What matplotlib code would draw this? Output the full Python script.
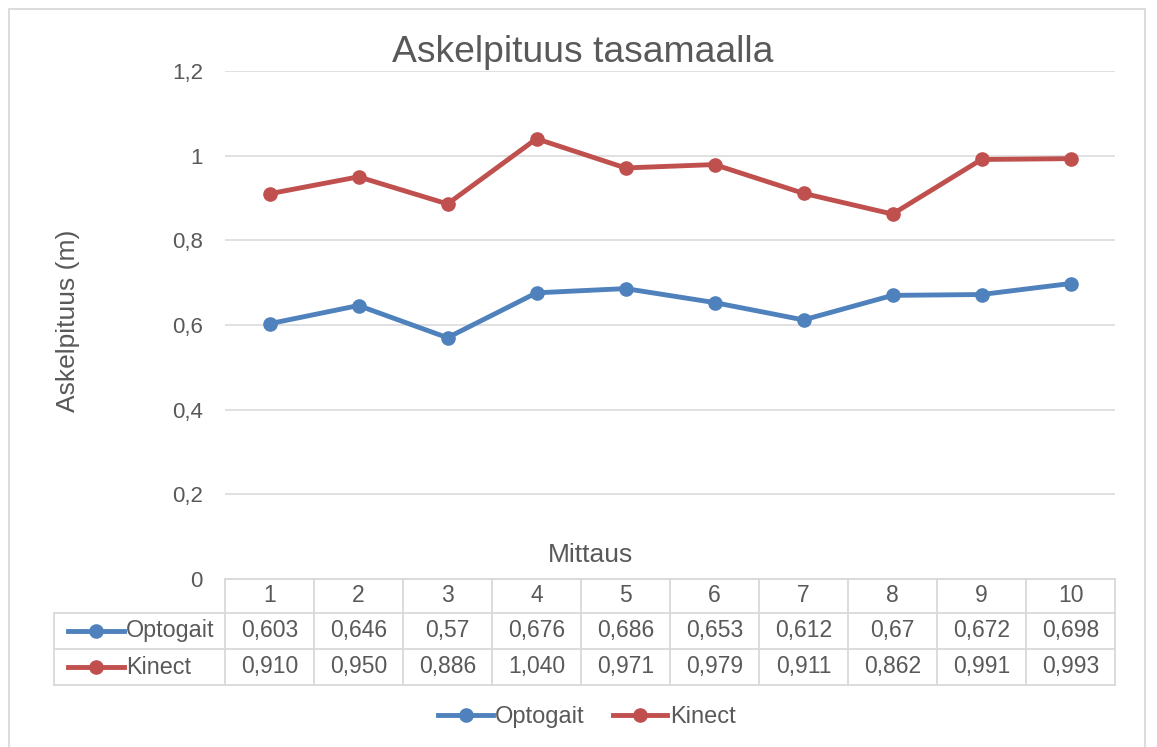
import matplotlib.pyplot as plt
import matplotlib.transforms as mtransforms
from matplotlib.lines import Line2D
from matplotlib.patches import Rectangle

plt.rcParams['font.family'] = ['Liberation Sans', 'DejaVu Sans']

# data
mittaus = [1, 2, 3, 4, 5, 6, 7, 8, 9, 10]
optogait = [0.603, 0.646, 0.57, 0.676, 0.686, 0.653, 0.612, 0.67, 0.672, 0.698]
kinect = [0.910, 0.950, 0.886, 1.040, 0.971, 0.979, 0.911, 0.862, 0.991, 0.993]
y_ticks = [0, 0.2, 0.4, 0.6, 0.8, 1.0, 1.2]

BLUE = '#4F81BD'
RED = '#C0504D'
TXT = '#595959'
GRID = '#D9D9D9'
W, H = 1157, 747


def fx(x):
    return x / W


def fy(y):
    return 1 - y / H


fig = plt.figure(figsize=(W / 100, H / 100), dpi=100)
fig.patches.append(Rectangle((fx(9), fy(760)), fx(1145) - fx(9), fy(9) - fy(760),
                             transform=fig.transFigure, fill=False,
                             edgecolor=GRID, lw=1.3))

ax = fig.add_axes([fx(225), fy(579), fx(1115) - fx(225), fy(71) - fy(579)])
ax.plot(mittaus, optogait, color=BLUE, lw=3.5, marker='o', ms=9.5, label='Optogait')
ax.plot(mittaus, kinect, color=RED, lw=3.5, marker='o', ms=9.5, label='Kinect')
ax.set_xlim(0.5, 10.5)
ax.set_ylim(0, 1.2)
ax.set_yticks(y_ticks)
ax.set_yticklabels([f'{t:g}'.replace('.', ',') for t in y_ticks])
ax.set_xticks([])
ax.tick_params(axis='y', length=0, pad=16, labelsize=16, labelcolor=TXT)
ax.yaxis.grid(True, color=GRID, lw=1.1)
ax.set_axisbelow(True)
for s in ax.spines.values():
    s.set_visible(False)

fig.text(fx(583), fy(52), 'Askelpituus tasamaalla', ha='center', va='center',
         fontsize=26.8, color=TXT)
fig.text(fx(68), fy(321), 'Askelpituus (m)', ha='center', va='center',
         rotation=90, fontsize=19, color=TXT)
fig.text(fx(591), fy(555), 'Mittaus', ha='center', va='center',
         fontsize=19, color=TXT)

# data table
tr = mtransforms.blended_transform_factory(ax.transData, fig.transFigure)
rows_y = [579, 613, 649, 685]
lw_t = 1.3
ax.plot([0.5, 10.5], [fy(rows_y[0])] * 2, color=GRID, lw=lw_t, transform=tr, clip_on=False)
for yy in rows_y[1:]:
    fig.add_artist(Line2D([fx(54), fx(1115)], [fy(yy)] * 2, color=GRID, lw=lw_t))
for i in range(11):
    ax.plot([0.5 + i] * 2, [fy(579), fy(685)], color=GRID, lw=lw_t, transform=tr, clip_on=False)
fig.add_artist(Line2D([fx(54)] * 2, [fy(613), fy(685)], color=GRID, lw=lw_t))

for m in mittaus:
    ax.text(m, fy(596), str(m), ha='center', va='center', fontsize=16.5,
            color=TXT, transform=tr)
for m, o, k in zip(mittaus, optogait, kinect):
    ax.text(m, fy(631), f'{o:g}'.replace('.', ','), ha='center', va='center',
            fontsize=16.5, color=TXT, transform=tr)
    ax.text(m, fy(667), f'{k:.3f}'.replace('.', ','), ha='center', va='center',
            fontsize=16.5, color=TXT, transform=tr)

for name, col, yy in [('Optogait', BLUE, 631), ('Kinect', RED, 667)]:
    fig.add_artist(Line2D([fx(68), fx(124)], [fy(yy)] * 2, color=col, lw=3.5))
    fig.add_artist(Line2D([fx(96)], [fy(yy)], color=col, marker='o', ms=9.5))
    fig.text(fx(126), fy(yy), name, ha='left', va='center', fontsize=16.8, color=TXT)

fig.legend(loc='center', bbox_to_anchor=(fx(587), fy(717)), ncol=2, frameon=False,
           fontsize=17, labelcolor=TXT, handlelength=2.3, handletextpad=0.1,
           columnspacing=1.2)

fig.savefig('out.png', dpi=100)
